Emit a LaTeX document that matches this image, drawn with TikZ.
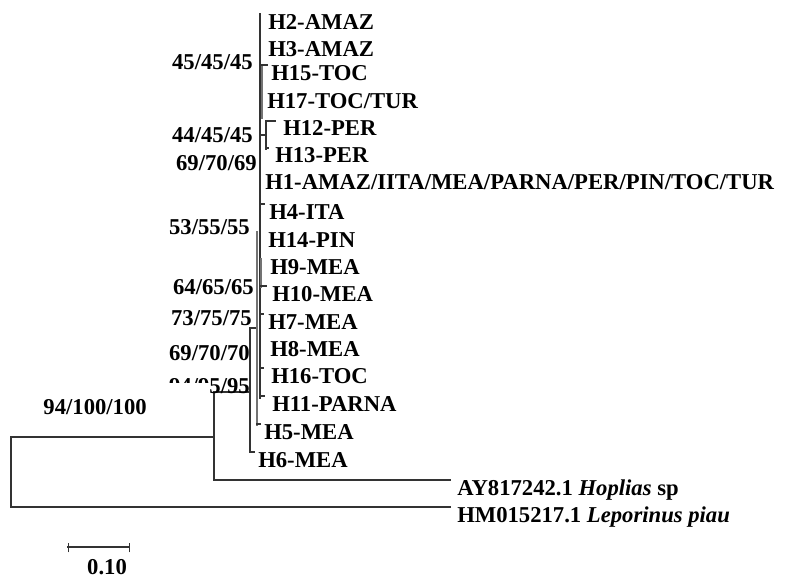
\documentclass[tikz,border=0pt]{standalone}
\usepackage{fontspec}
\setmainfont{Liberation Serif}
\begin{document}
\begin{tikzpicture}[x=0.75pt, y=-0.75pt, line cap=rect,
  branch/.style={draw=black!80, line width=0.9pt},
  shadebranch/.style={draw=black!55, line width=1.6pt},
  taxon/.style={anchor=base west, inner sep=0pt, yshift=-11.6pt,
    font=\fontsize{17}{20}\selectfont\bfseries},
  boot/.style={anchor=base east, inner sep=0pt,
    font=\fontsize{17}{20}\selectfont\bfseries}]
  \useasboundingbox (0,0) rectangle (811,578);
  % tree nodes
  \coordinate (root) at (11,437);
  \coordinate (rootlow) at (11,507);
  \coordinate (out) at (214,437);
  \coordinate (outtop) at (214,392);
  \coordinate (outlow) at (214,480);
  \coordinate (ingrp) at (250,392);
  \coordinate (ingtop) at (250,328);
  \coordinate (inglow) at (250,452);
  \coordinate (mea) at (257,328);
  \coordinate (poly) at (260,14);
  \coordinate (polylow) at (260,398);
  \coordinate (per) at (266,135);
  % outgroups
  \draw[branch] (rootlow) -- (root) -- (out);
  \draw[branch] (outtop) -- (outlow) -- (450,480) coordinate (tAY);
  \draw[branch] (rootlow) -- (450,507) coordinate (tHM);
  \node[taxon] (ay) at (457,480) {AY817242.1 \textit{Hoplias} sp};
  \node[taxon] (hm) at (457,507) {HM015217.1 \textit{Leporinus piau}};
  % ingroup
  \draw[branch] (outtop) -- (ingrp);
  \draw[branch] (ingtop) -- (inglow) -- ++(4,0);
  \draw[branch] (ingtop) -- (mea);
  \draw[shadebranch] (257,232) -- (257,425);
  \draw[branch] (257,424) -- ++(3,0);
  \draw[branch] (poly) -- (polylow);
  \draw[shadebranch] (262,66) -- (262,118);
  \draw[shadebranch] (261,259) -- (261,287);
  \foreach \y/\len in {65/7, 204/4, 286/6, 314/3, 368/3, 396/4}
    \draw[branch] (260,\y) -- ++(\len,0);
  \draw[branch] (262,135) -- (per);
  \draw[branch] (266,121) -- (266,149);
  \draw[branch] (266,121) -- ++(9,0);
  \draw[branch] (266,148) -- ++(2,0);
  % haplotypes
  \node[taxon] (h2) at (268,14) {H2-AMAZ};
  \node[taxon] (h3) at (268,41) {H3-AMAZ};
  \node[taxon] (h15) at (271,65) {H15-TOC};
  \node[taxon] (h17) at (267,93) {H17-TOC/TUR};
  \node[taxon] (h12) at (283,120) {H12-PER};
  \node[taxon] (h13) at (275,147) {H13-PER};
  \node[taxon] (h1) at (265,174) {H1-AMAZ/IITA/MEA/PARNA/PER/PIN/TOC/TUR};
  \node[taxon] (h4) at (269,204) {H4-ITA};
  \node[taxon] (h14) at (268,232) {H14-PIN};
  \node[taxon] (h9) at (270,259) {H9-MEA};
  \node[taxon] (h10) at (272,286) {H10-MEA};
  \node[taxon] (h7) at (268,314) {H7-MEA};
  \node[taxon] (h8) at (270,341) {H8-MEA};
  \node[taxon] (h16) at (271,368) {H16-TOC};
  \node[taxon] (h11) at (272,396) {H11-PARNA};
  \node[taxon] (h5) at (264,424) {H5-MEA};
  \node[taxon] (h6) at (258,452) {H6-MEA};
  % support values
  \node[boot] (s1) at (253,69.5) {45/45/45};
  \node[boot] (s2) at (253,142.5) {44/45/45};
  \node[boot] (s3) at (257,170.5) {69/70/69};
  \node[boot] (s4) at (250,234.5) {53/55/55};
  \node[boot] (s5) at (254,294.5) {64/65/65};
  \node[boot] (s6) at (252,325.5) {73/75/75};
  \node[boot] (s7) at (250,360.5) {69/70/70};
  \node[boot] (s8) at (250,393) {94/95/95};
  \fill[white] (150,383) rectangle (210,398);
  \node[boot] (s9) at (147,414.5) {94/100/100};
  % scale bar
  \draw[branch] (68,547) -- (129,547);
  \draw[branch, line width=0.6pt] (68,543) -- (68,552) (129,543) -- (129,552);
  \node[anchor=base, inner sep=0pt, font=\fontsize{17}{20}\selectfont\bfseries]
    (bar) at (107,574.5) {0.10};
\end{tikzpicture}
\end{document}
